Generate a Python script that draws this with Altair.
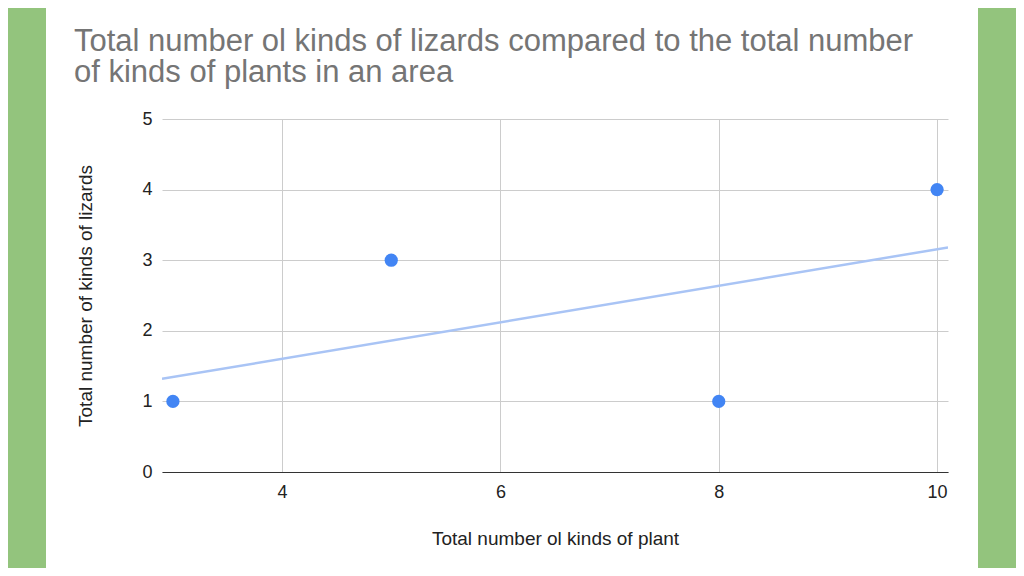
import altair as alt
import pandas as pd

plants = [3, 5, 8, 10]
lizards = [1, 3, 1, 4]
x_ticks = [4, 6, 8, 10]
y_ticks = [0, 1, 2, 3, 4, 5]
title_lines = ["Total number ol kinds of lizards compared to the total number",
               "of kinds of plants in an area"]
x_title = "Total number ol kinds of plant"
y_title = "Total number of  kinds of lizards"

df = pd.DataFrame({"plants": plants, "lizards": lizards})

FONT = "Liberation Sans"
X_DOMAIN = [2.9, 10.1]

xs = alt.Scale(domain=X_DOMAIN, nice=False, zero=False)
ys = alt.Scale(domain=[0, 5], nice=False)

base = alt.Chart(df)

# green side strips (decorative frame)
frame_df = pd.DataFrame({"side": ["left", "right"]})
left_strip = alt.Chart(frame_df).transform_filter("datum.side == 'left'").mark_rect(color="#93c47d").encode(
    x=alt.value(-154), x2=alt.value(-116), y=alt.value(-120), y2=alt.value(470))
right_strip = alt.Chart(frame_df).transform_filter("datum.side == 'right'").mark_rect(color="#93c47d").encode(
    x=alt.value(816), x2=alt.value(860), y=alt.value(-120), y2=alt.value(470))

title_df = pd.DataFrame({"t": ["\n".join(title_lines)]})
title_mark = alt.Chart(title_df).mark_text(
    align="left", baseline="alphabetic", font=FONT, fontSize=31, color="#757575",
    lineBreak="\n", lineHeight=31
).encode(text="t:N", x=alt.value(-88), y=alt.value(-68))

trend = base.transform_regression("plants", "lizards", extent=X_DOMAIN).mark_line(
    color="#a9c4f5", strokeWidth=2.5, clip=True
).encode(
    x=alt.X("plants:Q", scale=xs),
    y=alt.Y("lizards:Q", scale=ys),
)

points = base.mark_circle(color="#4285f4", opacity=1, size=175).encode(
    x=alt.X("plants:Q", scale=xs,
            axis=alt.Axis(values=x_ticks, title=x_title, grid=True, domain=True,
                          domainColor="#333333", ticks=False, labelPadding=11,
                          titlePadding=28, format="d")),
    y=alt.Y("lizards:Q", scale=ys,
            axis=alt.Axis(values=y_ticks, title=y_title, grid=True, domain=False,
                          ticks=False, labelPadding=10, titlePadding=46, format="d")),
)

chart = alt.layer(left_strip, right_strip, title_mark, trend, points).properties(
    width=786, height=353,
    background="white",
    autosize=alt.AutoSizeParams(type="none"),
    padding={"left": 154, "top": 111, "right": 68, "bottom": 96},
).configure_view(stroke=None).configure_axis(
    labelFont=FONT, titleFont=FONT, labelFontSize=18, titleFontSize=19,
    labelColor="#222222", titleColor="#222222", titleFontWeight="normal",
    gridColor="#cccccc", gridWidth=1,
)

chart.save("out.html", embed_options={"renderer": "svg", "actions": False})
